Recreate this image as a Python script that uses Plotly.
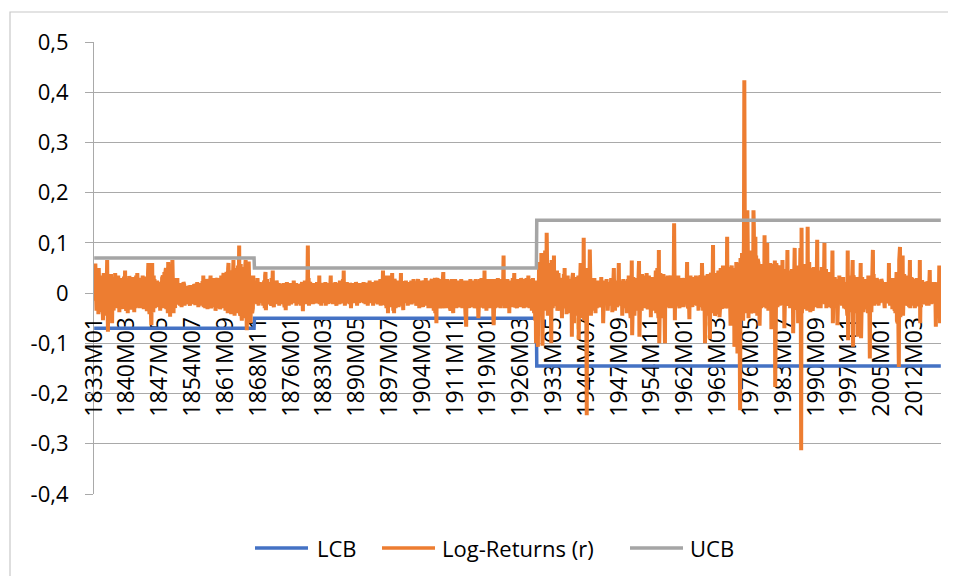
import plotly.graph_objects as go

# ---------------- data (monthly log-returns, in thousandths) ----------------
# Regime 1: 1833M01 - 1867M12
returns_1833_1867 = [
    22,-15,38,59,-28,12,-35,41,5,-20,30,-42,50,8,-25,33,-12,19,-38,26,
    -8,35,-30,-54,15,40,-22,28,-45,10,36,-18,-40,22,66,-12,-77,30,-25,18,
    25,-33,12,-20,38,-15,5,-60,28,-10,20,-35,32,8,-26,40,-18,14,-30,22,
    -12,26,-24,35,-8,18,-38,24,2,-20,30,-15,22,-32,15,-5,28,-25,33,-10,
    18,45,-20,12,-35,30,-12,25,-40,20,5,-28,34,-15,22,-8,30,-33,15,-18,
    24,-10,32,-25,12,-38,28,-5,20,-30,35,-12,18,40,-22,10,-28,25,-15,30,
    -30,15,-20,28,-8,22,-25,35,-12,18,-32,26,-6,20,-28,33,-14,24,-36,30,
    -10,38,60,-20,25,-42,48,-15,30,-50,-64,42,60,-25,18,-38,35,-20,28,-30,
    22,-12,18,-25,10,25,-18,12,-28,15,-8,20,-22,-35,14,-10,22,-26,30,-15,
    35,-20,28,-30,42,-25,38,-15,50,-32,44,-28,35,-40,62,-20,30,-38,25,-47,
    40,-30,45,-22,35,66,-35,28,-40,30,-25,20,-30,18,-12,25,-20,15,30,-18,
    12,-22,18,-10,20,-25,15,-8,14,-28,10,-15,18,-20,22,-12,16,-25,12,-18,
    14,-20,10,-15,12,-22,8,-12,15,-18,10,-25,16,-14,8,-20,12,-10,15,-22,
    10,-16,18,-12,14,-24,8,-18,12,-10,22,-20,14,-28,10,-15,18,-22,12,-16,
    20,-25,15,-18,24,-12,35,-28,18,-15,22,-30,16,-20,28,-10,18,-32,20,-15,
    25,-28,18,-12,22,35,-30,15,-20,28,-25,12,-18,30,-22,15,-28,20,-35,18,
    -20,25,-15,30,-25,18,-30,22,-12,28,-32,20,-18,35,-25,15,-28,22,-20,40,
    -30,25,-22,38,-35,30,-18,42,-28,35,-40,48,60,-30,25,-38,45,-20,32,-42,
    38,-25,45,-35,40,66,-30,35,-45,28,-32,50,-25,40,-38,45,-22,55,-40,60,
    95,-35,50,-45,58,-30,42,-55,48,-28,52,-40,45,-50,38,-35,55,66,-45,40,
    -74,50,-38,45,-42,63,-30,40,-35,28,-60,35,-25,30,-40,22,-30,35,-20,25,
]

# Regime 2: 1868M01 - 1929M08
returns_1868_1929 = [
    15,-12,20,-8,25,-18,10,-22,30,-10,18,-25,12,-5,22,-15,8,-20,16,-10,
    20,-14,12,-25,18,-8,25,-30,35,42,-34,15,-20,28,-12,10,-22,18,-15,12,
    -10,22,-18,14,-25,30,-12,20,45,-20,15,-28,22,-10,18,-15,12,-22,25,-8,
    14,-18,10,-12,20,-25,16,-8,12,-20,18,-14,8,-22,15,-10,20,-16,12,-28,
    18,-10,-34,14,-20,22,-12,10,-18,16,-25,12,-8,20,-15,14,-22,10,-12,18,
    -15,12,-20,25,-10,15,-18,8,-12,20,-25,14,-10,18,-22,12,-8,16,-20,10,
    -12,18,-25,15,-10,22,-28,-36,20,-15,12,-20,25,-12,18,-22,10,-15,20,28,
    95,-20,30,-25,15,-18,22,-12,10,-20,18,-15,12,-22,16,-10,20,-18,14,-12,
    18,-15,10,-20,22,-12,15,-18,20,-10,35,-22,15,-12,18,-25,10,-15,20,-8,
    14,-20,12,-15,18,-10,22,-25,15,-12,20,-18,10,-22,16,-8,14,-20,25,-12,
    35,-18,12,-15,20,-22,10,-12,18,-20,15,-8,22,-15,12,-25,18,-10,14,-20,
    20,-12,16,-22,25,-15,10,-20,18,-12,22,-18,28,-10,45,-20,15,-25,12,-15,
    18,-10,22,-15,12,-20,16,-12,10,-22,20,-15,14,-30,18,-12,20,-18,10,-14,
    16,-20,12,-10,18,-15,22,-12,14,-25,10,-18,20,-8,15,-20,12,-16,18,-10,
    14,-18,20,-12,10,-15,22,-20,12,-8,18,-22,15,-12,20,-10,16,-25,12,-15,
    18,-12,25,-20,10,-15,20,-18,14,-10,22,-25,16,-12,18,-20,12,-15,25,-18,
    20,-15,12,-22,18,-10,25,-20,15,-12,28,-25,18,-15,22,-18,30,45,-20,15,
    -22,28,-18,35,-25,20,-30,15,-18,22,-40,35,-20,15,-28,22,-15,18,-25,20,
    -18,40,-22,25,-35,18,-40,28,-15,22,-30,20,-18,25,-12,18,-22,15,-28,20,
    -15,22,-18,30,40,-25,18,-20,15,-12,-34,20,-15,22,-18,12,-20,25,-15,18,
    -12,20,-25,15,-18,22,-10,18,-20,12,-15,25,-22,15,-12,20,-18,28,-15,12,
    -20,18,-12,22,-25,15,-18,20,-10,28,-22,15,-30,18,-15,25,-20,12,-18,22,
    -15,20,-28,18,-12,25,-20,15,-22,30,-18,12,-25,20,-15,22,-30,18,-12,25,
    -20,15,-25,22,-18,28,-30,20,-15,25,-35,18,-22,30,-40,20,-57,-60,25,-20,
    30,-25,18,-28,22,-15,25,-30,20,-18,28,-22,15,-25,30,42,-20,18,-30,25,
    -18,22,-25,15,-20,28,-30,18,-22,25,-15,20,-28,15,-35,22,-18,28,-25,18,
    -30,-40,22,-25,18,-20,28,-15,22,-30,15,-22,25,-18,20,-28,15,-20,22,-25,
    18,-15,28,-22,20,-30,15,-25,22,-18,25,-35,18,-40,-50,-67,20,-28,22,-20,
    25,-18,15,-30,22,-20,28,-15,18,-25,20,-22,15,-28,25,-18,22,-30,15,-20,
    28,-22,18,-30,25,-35,20,-50,-30,22,-18,28,-25,15,-20,30,-22,18,-28,25,
    -15,22,-30,45,-25,18,-20,28,-35,15,-22,25,-18,20,-30,22,-15,28,-25,18,
    -20,25,-30,18,-22,28,-40,-64,22,-18,25,-30,20,-15,28,-25,18,-22,30,-20,
    15,-28,22,-18,25,-30,20,-15,28,-22,18,-25,30,75,-20,28,-30,22,-18,25,
    -25,20,-15,28,-22,18,-30,25,-40,22,-18,25,-20,15,-28,22,-18,30,-25,20,
    -15,40,-22,18,-28,25,-20,15,-30,22,-18,28,-25,20,-15,25,-22,18,-28,30,
    -20,22,-15,28,-25,18,-30,20,-22,25,-18,15,-28,30,-20,22,-25,18,35,-22,
    25,-30,18,-20,28,-25,15,-35,22,-18,30,-28,20,-40,25,-30,-55,20,-100,15,
]

# Regime 3: 1929M09 - 2018M04
returns_1929_2018 = [
    25,-30,18,-107,12,-25,62,-18,30,-40,5,-15,80,-20,45,-105,10,-20,55,-25,
    8,-35,85,-22,20,-30,120,-10,35,-45,30,-15,60,-25,15,-30,50,-5,-100,66,
    -25,20,-30,30,-15,75,-25,10,-20,35,-20,25,-8,45,-35,15,-20,40,-15,10,
    -35,25,-12,30,-20,5,-50,20,-30,18,-15,38,-10,50,-30,12,-25,8,-42,18,
    -15,35,-20,10,-40,28,-12,22,-18,5,-28,20,-87,30,-10,40,-15,12,-60,25,
    -8,25,-35,20,-18,32,-12,18,-45,35,-93,10,-20,25,-12,60,-25,15,-50,35,
    -15,45,-30,110,-55,20,-40,35,-18,30,-70,-243,50,-15,40,-25,20,-35,10,87,
    -25,20,-45,30,-10,28,-15,12,-35,18,-5,30,-20,15,-40,22,-10,8,-30,20,
    -12,25,-22,5,-28,18,-10,15,-22,32,-8,20,-25,15,-60,18,-5,25,-15,10,
    -22,15,-8,28,-10,22,-35,3,-18,22,-5,20,-25,12,-18,30,-10,16,-38,20,
    -5,18,50,-12,12,-35,20,-10,25,-18,8,-28,16,-15,25,60,-15,18,-25,6,
    -20,22,-12,25,-45,15,-12,28,-8,15,-25,20,-30,18,-5,25,-40,12,-28,28,
    -18,35,-20,22,-30,8,-50,30,-15,65,-84,15,-30,32,-10,20,-45,25,-20,25,
    -8,30,-25,20,-35,28,-15,20,64,-87,25,-20,30,-28,5,-35,38,-12,26,-20,
    10,-25,35,-18,18,-30,22,-5,40,-25,15,-32,18,-10,35,-25,20,-20,28,-48,
    12,-30,20,-22,32,-15,28,-25,8,-35,30,-20,45,-40,18,-32,50,-25,18,-50,
    86,-100,25,-42,40,-10,28,-50,22,-35,30,-15,38,-28,5,-40,-100,32,-20,18,
    -28,15,-22,35,-8,25,-18,20,-30,22,-12,35,-20,10,-25,32,-18,20,-30,25,
    139,-30,-54,25,-10,32,-15,18,-25,20,-5,35,-22,12,-30,18,-15,28,-20,22,
    -25,30,-8,22,-28,15,-20,25,-12,30,-22,20,-18,35,62,-25,10,-30,25,-18,
    -52,28,-20,35,-12,22,-15,8,-28,25,-20,32,-18,15,-24,20,-10,35,-22,18,
    -25,32,-15,28,-35,10,-18,30,-20,35,-28,5,-25,60,-25,28,-35,18,-20,25,
    -40,-100,35,-20,32,-45,15,-25,38,-30,28,-50,10,-30,-92,35,-18,40,-32,25,
    -35,30,96,-40,46,-20,35,-45,12,-38,40,-25,32,-42,18,-30,45,-30,35,-48,
    20,-22,50,-15,40,-32,35,-18,55,-10,42,-30,25,-15,52,-30,48,-25,15,112,
    -30,30,-20,52,-10,40,-25,8,-65,42,-15,55,-28,20,-35,45,-20,50,-107,45,
    -35,30,-20,62,-15,50,-120,45,-35,60,-90,25,-40,-233,70,-20,65,-45,80,-30,
    75,-55,40,110,424,140,-40,80,-15,90,-35,50,165,-40,30,-50,75,-30,85,-20,
    65,-40,50,-35,70,-10,80,-30,165,130,-40,40,-30,112,-25,75,-30,30,-45,68,
    -20,60,-25,35,-65,52,-10,58,-30,48,-15,55,-20,40,-25,48,-15,115,-28,42,
    -15,55,-30,20,100,-25,48,-35,25,-28,45,-10,60,-25,18,-72,50,-20,58,-22,
    15,-30,52,-10,65,-187,45,-28,60,-15,50,-28,12,-22,55,-20,48,-25,30,-20,
    45,-20,50,-22,66,-15,40,-15,28,-70,38,-10,48,-20,35,-25,42,86,-18,40,
    -22,20,-18,45,-30,40,-25,42,-20,48,-12,42,-80,38,-22,45,90,-25,42,-25,
    50,-28,22,-32,45,-60,55,-30,18,-25,52,90,-35,-313,130,-40,40,-25,45,-20,
    58,-32,45,-28,55,-10,50,-25,20,-35,132,-30,40,-25,62,-22,48,-38,35,-22,
    50,-28,42,-35,10,-20,52,-25,40,-15,45,-22,30,-28,40,106,-20,45,-30,18,
    -22,45,-18,12,-30,40,-15,52,-20,20,-15,42,-18,50,100,-22,25,-18,48,-30,
    42,-15,15,-20,38,-22,42,-28,30,-15,32,-10,38,-30,40,85,-60,15,-32,28,
    -25,32,-20,8,-22,25,-18,20,-64,22,-12,28,-15,35,-22,18,-18,25,-20,22,
    -25,28,-20,32,-18,15,-30,22,-28,20,-32,10,-20,28,-45,85,-94,30,-35,32,
    -18,35,-30,25,-38,32,-10,40,66,-107,35,-35,28,-20,32,-40,15,-38,30,-32,
    28,-87,22,-35,30,-15,28,-42,28,60,-90,12,-35,32,-30,22,-38,20,-32,20,
    -25,28,-22,10,-30,25,-20,22,-40,35,-32,20,-48,-130,35,-18,22,-38,25,-25,
    15,86,-22,38,-25,10,-18,25,-22,18,-20,30,-15,22,-8,20,-25,25,-20,22,
    -15,20,-18,28,-12,22,-12,15,-18,20,-12,18,-30,22,-5,16,-18,18,-14,18,
    -20,22,-12,60,-15,18,-25,25,-20,18,-10,20,-32,30,-18,22,-20,20,-35,28,
    -40,35,-22,42,-55,15,-60,40,-80,-147,65,-40,92,-48,35,-42,35,-20,30,75,
    -45,25,-30,38,-12,35,-20,20,-25,32,-8,28,-15,30,-25,35,-28,10,66,-30,
    28,-25,32,-10,30,-18,15,-20,28,-25,22,-30,12,-22,28,-20,30,-20,8,-22,
    28,-25,30,-22,66,-60,15,-28,22,-10,26,-18,20,-22,20,-15,22,-18,5,-20,
    22,-18,20,-25,10,-20,22,-25,20,-12,46,-15,22,-22,18,-8,22,-20,15,-15,
    20,-20,22,-16,12,-20,-67,20,-15,18,-22,20,-20,15,-10,55,-22,-60,18,20,
]

# Confidence bounds per regime
ucb_levels = [0.07, 0.05, 0.145]
lcb_levels = [-0.07, -0.05, -0.145]

# Category tick labels (every 86 months)
x_tick_labels = [
    "1833M01", "1840M03", "1847M05", "1854M07", "1861M09", "1868M11",
    "1876M01", "1883M03", "1890M05", "1897M07", "1904M09", "1911M11",
    "1919M01", "1926M03", "1933M05", "1940M07", "1947M09", "1954M11",
    "1962M01", "1969M03", "1976M05", "1983M07", "1990M09", "1997M11",
    "2005M01", "2012M03",
]
x_tick_step = 86

y_tick_values = [-0.4, -0.3, -0.2, -0.1, 0, 0.1, 0.2, 0.3, 0.4, 0.5]
y_tick_labels = ["-0,4", "-0,3", "-0,2", "-0,1", "0", "0,1", "0,2", "0,3", "0,4", "0,5"]

series_names = ["LCB", "Log-Returns (r)", "UCB"]
series_colors = ["#4472C4", "#ED7D31", "#A5A5A5"]

# ---------------- build series ----------------
regimes = [returns_1833_1867, returns_1868_1929, returns_1929_2018]
log_returns = [v / 1000 for reg in regimes for v in reg]
ucb = [lvl for reg, lvl in zip(regimes, ucb_levels) for _ in reg]
lcb = [lvl for reg, lvl in zip(regimes, lcb_levels) for _ in reg]
n = len(log_returns)
x = list(range(n))
tickvals = [i * x_tick_step for i in range(len(x_tick_labels))]

FONT = "Open Sans, Lato, sans-serif"
GRID = "#a9a9a9"
OFF = 8                      # page body margin of the html page
W, H = 940, 568              # figure size (fits inside the 956x584 window)
L, R, T = 86, 7, 34          # plot area: page x 94..941, page y 42..494
PW, PH = 847, 452
B = H - T - PH

def px_x(px):                # page pixel -> paper x
    return (px - OFF - L) / PW

def px_y(py):                # page pixel -> paper y
    return (H - B - (py - OFF)) / PH

fig = go.Figure()
fig.add_trace(go.Scatter(x=x, y=lcb, mode="lines", name=series_names[0],
                         line=dict(color=series_colors[0], width=3.5)))
fig.add_trace(go.Scatter(x=x, y=log_returns, mode="lines", name=series_names[1],
                         line=dict(color=series_colors[1], width=4)))
fig.add_trace(go.Scatter(x=x, y=ucb, mode="lines", name=series_names[2],
                         line=dict(color=series_colors[2], width=3.5)))

# legend drawn as line samples + text (spreadsheet-style legend)
legend_line_px = [(255, 308), (382, 435), (630, 683)]
legend_text_px = [315, 440, 688]
legend_y_px = 548
shapes = [dict(type="rect", xref="paper", yref="paper",
               x0=px_x(10), x1=px_x(990), y0=px_y(620), y1=px_y(12),
               line=dict(color="#c8c8c8", width=1.2), fillcolor="rgba(0,0,0,0)",
               layer="below")]
annotations = []
for (x0, x1), tx, name, col in zip(legend_line_px, legend_text_px, series_names, series_colors):
    shapes.append(dict(type="line", xref="paper", yref="paper",
                       x0=px_x(x0), x1=px_x(x1), y0=px_y(legend_y_px), y1=px_y(legend_y_px),
                       line=dict(color=col, width=3.5)))
    annotations.append(dict(xref="paper", yref="paper", x=px_x(tx), y=px_y(legend_y_px),
                            xanchor="left", yanchor="middle", showarrow=False,
                            text=name, font=dict(family=FONT, size=22, color="black")))

fig.update_layout(
    width=W, height=H,
    margin=dict(l=L, r=R, t=T, b=B, autoexpand=False),
    paper_bgcolor="white", plot_bgcolor="white",
    font=dict(family=FONT, size=22, color="black"),
    showlegend=False,
    xaxis=dict(
        range=[-0.5, n - 0.5], automargin=False,
        anchor="free", position=0.4 / 0.9,
        layer="below traces",
        showgrid=False, zeroline=False,
        showline=True, linecolor=GRID, linewidth=1.5,
        tickmode="array", tickvals=tickvals, ticktext=x_tick_labels,
        tickangle=-90, ticks="", ticklabelstandoff=14,
        tickfont=dict(size=23, family=FONT),
    ),
    yaxis=dict(
        range=[-0.4, 0.5], automargin=False,
        layer="below traces",
        tickmode="array", tickvals=y_tick_values, ticktext=y_tick_labels,
        showgrid=True, gridcolor=GRID, gridwidth=1.2,
        zeroline=False,
        showline=True, linecolor=GRID, linewidth=1.2,
        ticks="outside", ticklen=8, tickcolor=GRID, tickwidth=1.2,
        ticklabelstandoff=12,
        tickfont=dict(size=22, family=FONT),
    ),
    shapes=shapes,
    annotations=annotations,
)

fig.write_html("out.html")
